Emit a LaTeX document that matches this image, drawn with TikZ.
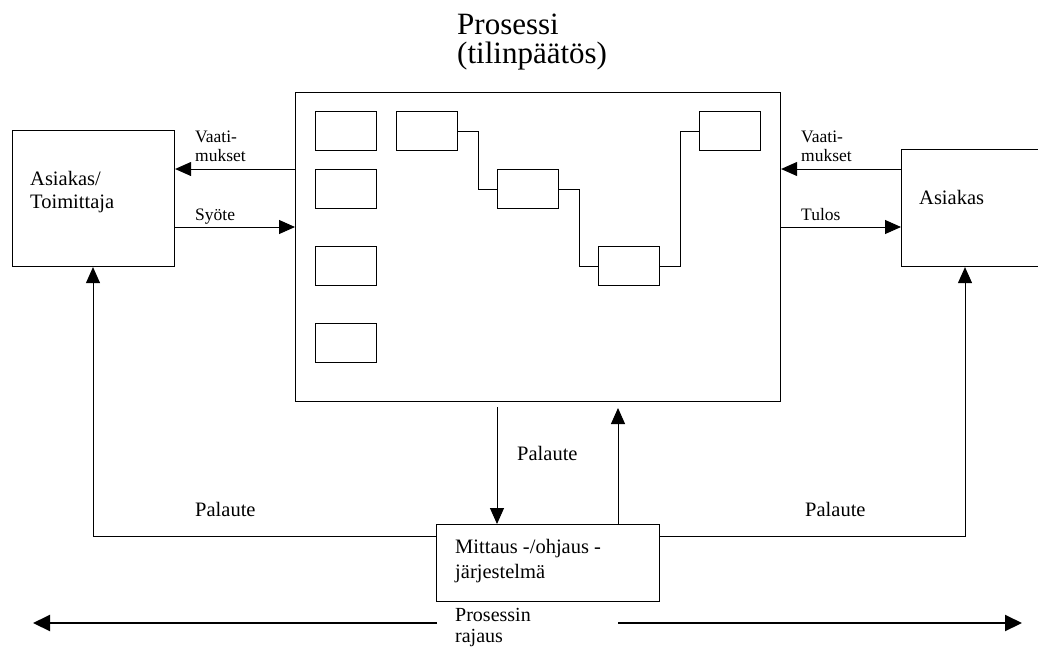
\documentclass[tikz,border=0pt]{standalone}
\usepackage{fontspec}
\setmainfont{Liberation Serif}
\usetikzlibrary{arrows.meta}
\begin{document}
\begin{tikzpicture}[x=1pt,y=-1pt,
  box/.style={draw,line width=1.1pt,inner sep=0pt,anchor=north west},
  sub/.style={box,minimum width=61pt,minimum height=39pt},
  wire/.style={line width=1pt},
  arr/.style={line width=1pt,-{Triangle[length=16pt,width=14pt]}},
  bound/.style={line width=2pt,-{Triangle[length=17pt,width=16pt]}},
  % multi-line texts are placed at the baseline of their last line
  small/.style={font=\fontsize{17.5}{18.5}\selectfont,anchor=base west,inner sep=0pt,align=left},
  mid/.style={font=\fontsize{20.5}{25}\selectfont,anchor=base west,inner sep=0pt,align=left},
  title/.style={font=\fontsize{31}{29}\selectfont,anchor=base west,inner sep=0pt,align=left}]
\clip (0,0) rectangle (1038,648);

% title
\node[title] (ttl) at (457,63) {Prosessi\\(tilinpäätös)};

% main process frame and outer parties
\node[box,minimum width=485pt,minimum height=309pt] (main) at (295,92) {};
\node[box,minimum width=162pt,minimum height=136pt] (lbox) at (12,130) {};
\node[box,minimum width=160pt,minimum height=117pt] (rbox) at (901,149) {};
\node[box,minimum width=223pt,minimum height=77pt] (mitt) at (436,524) {};

\node[mid,font=\fontsize{20.5}{23}\selectfont] (lboxtxt) at (30,208) {Asiakas/\\Toimittaja};
\node[mid] (rboxtxt) at (919,204) {Asiakas};
\node[mid] (mitttxt) at (455,578) {Mittaus -/ohjaus -\\järjestelmä};

% inner steps
\node[sub] (c1) at (315,111) {};
\node[sub] (c2) at (315,169) {};
\node[sub] (c3) at (315,246) {};
\node[sub] (c4) at (315,323) {};
\node[sub] (sa) at (396,111) {};
\node[sub] (sb) at (497,169) {};
\node[sub] (sc) at (598,246) {};
\node[sub] (sd) at (699,111) {};

\draw[wire] (sa.east) -- ++(20,0) |- (sb.west);
\draw[wire] (sb.east) -- ++(20,0) |- (sc.west);
\draw[wire] (sc.east) -- ++(20,0) |- (sd.west);

% flows between parties and process
\draw[arr] (main.west |- 0,169) -- (lbox.east |- 0,169);
\draw[arr] (lbox.east |- 0,227) -- (main.west |- 0,227);
\draw[arr] (rbox.west |- 0,169) -- (main.east |- 0,169);
\draw[arr] (main.east |- 0,227) -- (rbox.west |- 0,227);

\node[small] (v1) at (195,161) {Vaati-\\mukset};
\node[small] (sy) at (195,220) {Syöte};
\node[small] (v2) at (801,161) {Vaati-\\mukset};
\node[small] (tu) at (801,220) {Tulos};

% feedback loops
\coordinate (dtop) at (497,407);
\coordinate (utop) at (618,408);
\draw[arr] (dtop) -- (mitt.north -| dtop);
\draw[arr] (mitt.north -| utop) -- (utop);
\draw[arr] (mitt.west |- 0,536) -| (lbox.south -| 93,0);
\draw[arr] (mitt.east |- 0,536) -| (rbox.south -| 965,0);

\node[mid] (p1) at (517,460) {Palaute};
\node[mid] (p2) at (195,516) {Palaute};
\node[mid] (p3) at (805,516) {Palaute};

% process boundary
\node[mid,font=\fontsize{20}{21}\selectfont] (raj) at (455,642) {Prosessin\\rajaus};
\coordinate (bl) at (33,623);
\coordinate (blg) at (437,623);
\coordinate (brg) at (618,623);
\coordinate (br) at (1022,623);
\draw[bound] (blg) -- (bl);
\draw[bound] (brg) -- (br);
\end{tikzpicture}
\end{document}
